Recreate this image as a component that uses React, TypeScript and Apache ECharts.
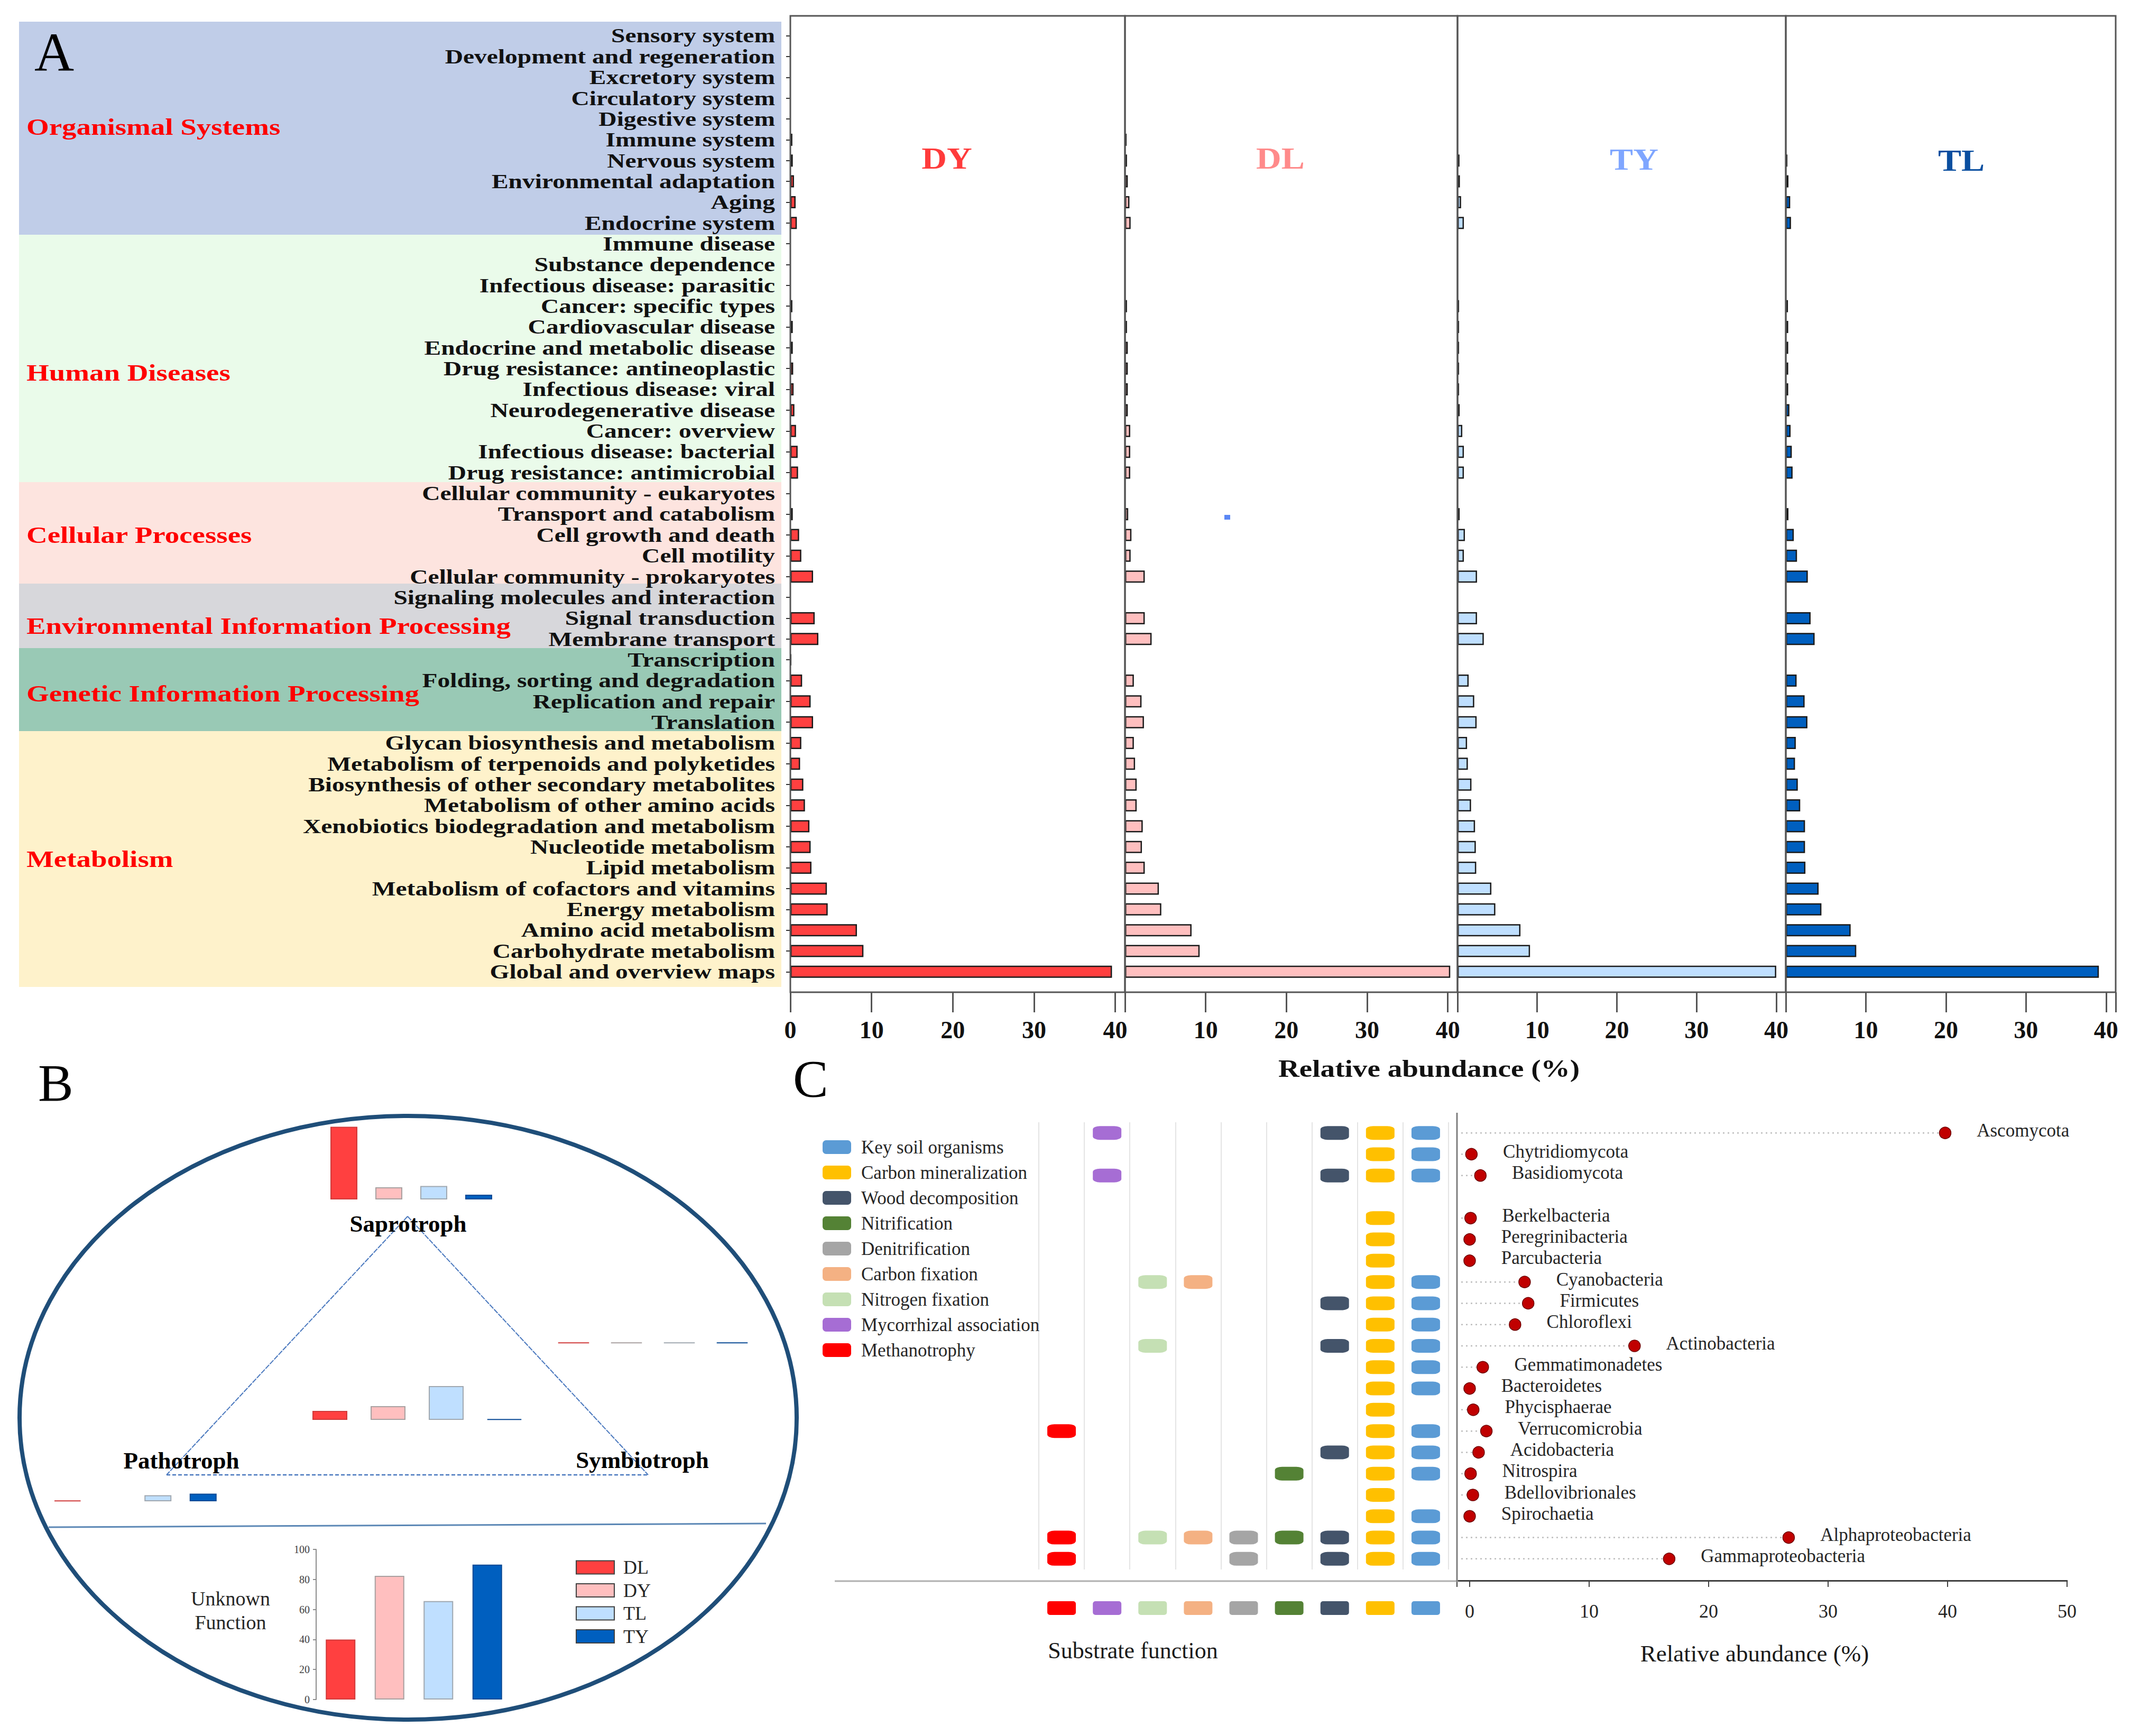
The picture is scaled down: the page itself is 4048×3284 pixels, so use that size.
import React, { useEffect, useRef } from 'react';
import * as echarts from 'echarts';

const FONT = "'Liberation Serif', 'Times New Roman', serif";

// ---------------- Panel A data ----------------
const pathways = [
  'Sensory system', 'Development and regeneration', 'Excretory system', 'Circulatory system', 'Digestive system',
  'Immune system', 'Nervous system', 'Environmental adaptation', 'Aging', 'Endocrine system',
  'Immune disease', 'Substance dependence', 'Infectious disease: parasitic', 'Cancer: specific types',
  'Cardiovascular disease', 'Endocrine and metabolic disease', 'Drug resistance: antineoplastic',
  'Infectious disease: viral', 'Neurodegenerative disease', 'Cancer: overview', 'Infectious disease: bacterial',
  'Drug resistance: antimicrobial',
  'Cellular community - eukaryotes', 'Transport and catabolism', 'Cell growth and death', 'Cell motility',
  'Cellular community - prokaryotes',
  'Signaling molecules and interaction', 'Signal transduction', 'Membrane transport',
  'Transcription', 'Folding, sorting and degradation', 'Replication and repair', 'Translation',
  'Glycan biosynthesis and metabolism', 'Metabolism of terpenoids and polyketides',
  'Biosynthesis of other secondary metabolites', 'Metabolism of other amino acids',
  'Xenobiotics biodegradation and metabolism', 'Nucleotide metabolism', 'Lipid metabolism',
  'Metabolism of cofactors and vitamins', 'Energy metabolism', 'Amino acid metabolism',
  'Carbohydrate metabolism', 'Global and overview maps',
];
const dyValues = [
  0, 0, 0, 0, 0, 0.25, 0.3, 0.45, 0.65, 0.8,
  0, 0, 0, 0.25, 0.3, 0.3, 0.35, 0.4, 0.5, 0.7, 0.9, 0.95,
  0, 0.3, 1.08, 1.35, 2.8,
  0, 3.0, 3.45,
  0.1, 1.45, 2.5, 2.8,
  1.35, 1.2, 1.6, 1.8, 2.35, 2.5, 2.6, 4.5, 4.6, 8.2, 9.0, 39.6,
];
const dlValues = [
  0, 0, 0, 0, 0, 0.2, 0.25, 0.35, 0.55, 0.7,
  0, 0, 0, 0.25, 0.25, 0.35, 0.35, 0.35, 0.35, 0.65, 0.65, 0.65,
  0, 0.4, 0.8, 0.7, 2.45,
  0, 2.45, 3.3,
  0, 1.1, 2.05, 2.35,
  1.1, 1.25, 1.45, 1.45, 2.2, 2.1, 2.45, 4.2, 4.5, 8.25, 9.25, 40.3,
];
const tyValues = [
  0, 0, 0, 0, 0, 0, 0.25, 0.3, 0.45, 0.8,
  0, 0, 0, 0.2, 0.2, 0.2, 0.2, 0.2, 0.27, 0.6, 0.8, 0.8,
  0, 0.27, 0.93, 0.8, 2.45,
  0, 2.45, 3.3,
  0, 1.4, 2.1, 2.4,
  1.2, 1.3, 1.75, 1.7, 2.2, 2.3, 2.35, 4.25, 4.75, 7.9, 9.1, 40.0,
];
const tlValues = [
  0, 0, 0, 0, 0, 0, 0.2, 0.33, 0.55, 0.65,
  0, 0, 0, 0.27, 0.3, 0.3, 0.3, 0.3, 0.45, 0.6, 0.75, 0.85,
  0, 0.33, 1.0, 1.4, 2.75,
  0, 3.1, 3.6,
  0, 1.35, 2.35, 2.7,
  1.25, 1.15, 1.5, 1.8, 2.4, 2.4, 2.45, 4.1, 4.45, 8.1, 8.8, 39.1,
];
const panelNames = ['DY', 'DL', 'TY', 'TL'];
const groupNames = [
  'Organismal Systems', 'Human Diseases', 'Cellular Processes',
  'Environmental Information Processing', 'Genetic Information Processing', 'Metabolism',
];
const axisTitleA = 'Relative abundance (%)';

// ---------------- Panel B data ----------------
const sampleNamesB = ['DL', 'DY', 'TL', 'TY'];
const saprotrophValues = [27.5, 4.6, 5.1, 1.8];
const centreValues = [3.4, 5.2, 12.8, 0.3];
const symbiotrophValues = [0.3, 0.3, 0.3, 0.3];
const pathotrophValues = [0.3, 0, 2.3, 2.9];
const unknownFunctionValues = [40, 82.4, 65.6, 89.9];
const guildNames = ['Saprotroph', 'Pathotroph', 'Symbiotroph'];

// ---------------- Panel C data ----------------
const functionNames = [
  'Methanotrophy', 'Mycorrhizal association', 'Nitrogen fixation', 'Carbon fixation', 'Denitrification',
  'Nitrification', 'Wood decomposition', 'Carbon mineralization', 'Key soil organisms',
];
const phyla = [
  'Ascomycota', 'Chytridiomycota', 'Basidiomycota', '', 'Berkelbacteria', 'Peregrinibacteria', 'Parcubacteria',
  'Cyanobacteria', 'Firmicutes', 'Chloroflexi', 'Actinobacteria', 'Gemmatimonadetes', 'Bacteroidetes',
  'Phycisphaerae', 'Verrucomicrobia', 'Acidobacteria', 'Nitrospira', 'Bdellovibrionales', 'Spirochaetia',
  'Alphaproteobacteria', 'Gammaproteobacteria',
];
const phylumAbundance = [
  39.8, 0.15, 0.9, null, 0.08, 0, 0,
  4.6, 4.9, 3.8, 13.8, 1.1, 0,
  0.3, 1.4, 0.75, 0.08, 0.27, 0,
  26.7, 16.7,
];
const methanotrophyTaxa = ['Verrucomicrobia', 'Alphaproteobacteria', 'Gammaproteobacteria'];
const mycorrhizalTaxa = ['Ascomycota', 'Basidiomycota'];
const nitrogenFixationTaxa = ['Cyanobacteria', 'Actinobacteria', 'Alphaproteobacteria'];
const carbonFixationTaxa = ['Cyanobacteria', 'Alphaproteobacteria'];
const denitrificationTaxa = ['Alphaproteobacteria', 'Gammaproteobacteria'];
const nitrificationTaxa = ['Nitrospira', 'Alphaproteobacteria'];
const woodDecompositionTaxa = ['Ascomycota', 'Basidiomycota', 'Firmicutes', 'Actinobacteria', 'Acidobacteria',
  'Alphaproteobacteria', 'Gammaproteobacteria'];
const carbonMineralizationTaxa = ['Ascomycota', 'Chytridiomycota', 'Basidiomycota', 'Berkelbacteria',
  'Peregrinibacteria', 'Parcubacteria', 'Cyanobacteria', 'Firmicutes', 'Chloroflexi', 'Actinobacteria',
  'Gemmatimonadetes', 'Bacteroidetes', 'Phycisphaerae', 'Verrucomicrobia', 'Acidobacteria', 'Nitrospira',
  'Bdellovibrionales', 'Spirochaetia', 'Alphaproteobacteria', 'Gammaproteobacteria'];
const keySoilTaxa = ['Ascomycota', 'Chytridiomycota', 'Basidiomycota', 'Cyanobacteria', 'Firmicutes',
  'Chloroflexi', 'Actinobacteria', 'Gemmatimonadetes', 'Bacteroidetes', 'Verrucomicrobia', 'Acidobacteria',
  'Nitrospira', 'Spirochaetia', 'Alphaproteobacteria', 'Gammaproteobacteria'];
const functionTaxa = [methanotrophyTaxa, mycorrhizalTaxa, nitrogenFixationTaxa, carbonFixationTaxa,
  denitrificationTaxa, nitrificationTaxa, woodDecompositionTaxa, carbonMineralizationTaxa, keySoilTaxa];

// ---------------- styles ----------------
const aColors = ['#FF4040', '#FFBFBF', '#BFDFFF', '#005FBF'];
const aTitleColors = ['#FF3B3B', '#FF8A8A', '#7FA6FF', '#0A4FA0'];
const bColors = ['#FF4040', '#FFBFBF', '#BFDFFF', '#005FBF'];
const bBorders = ['#D03A3A', '#A8A0A0', '#A0A8B0', '#0A4A95'];
const functionColors = ['#FF0000', '#A66DD4', '#C5E0B4', '#F4B183', '#A5A5A5', '#548235', '#44546A', '#FFC000', '#5B9BD5'];
const bandColors = ['#C0CDE8', '#EAFBEA', '#FDE4DF', '#D7D7DB', '#99C9B5', '#FEF2CB'];

function txt(text: string, x: number, y: number, size: number, o: any = {}) {
  const align = o.align || 'left';
  return {
    type: 'text', x, y, z: 30, silent: true, scaleX: o.scaleX || 1,
    style: {
      text, font: `${o.bold ? 'bold ' : ''}${size}px ${FONT}`, fill: o.color || '#000',
      textAlign: align, align, textVerticalAlign: 'middle', verticalAlign: 'middle',
    },
  };
}
function line(x1: number, y1: number, x2: number, y2: number, stroke: string, lineWidth: number, dash?: number[]) {
  return { type: 'line', z: 5, silent: true, shape: { x1, y1, x2, y2 }, style: { stroke, lineWidth, lineDash: dash || null } };
}

function buildOption() {
  const grid: any[] = [];
  const xAxis: any[] = [];
  const yAxis: any[] = [];
  const series: any[] = [];
  const graphic: any[] = [];

  // ---------- Panel A ----------
  const aTop = 48, aHeight = 1810;
  const rowH = aHeight / pathways.length;
  const aPanels = [{ left: 1495, width: 633 }, { left: 2128, width: 629 }, { left: 2757, width: 621 }, { left: 3378, width: 624 }];
  const aData = [dyValues, dlValues, tyValues, tlValues];
  aPanels.forEach((p, k) => {
    grid.push({ left: p.left, top: aTop, width: p.width, height: aHeight, outerBoundsMode: 'none' });
    xAxis.push({
      gridIndex: k, type: 'value', min: 0, max: 41.2, interval: 10, offset: 19,
      axisLine: { show: false },
      axisTick: { show: true, length: 38, lineStyle: { color: '#555', width: 3 } },
      splitLine: { show: false },
      axisLabel: {
        margin: 48, fontFamily: FONT, fontWeight: 'bold', fontSize: 46, color: '#111',
        formatter: (v: number) => {
          const r = Math.round(v);
          if (Math.abs(v - r) > 1e-6 || r % 10 !== 0) return '';
          if (k > 0 && r === 0) return '';
          return String(r);
        },
      },
    });
    yAxis.push({
      gridIndex: k, type: 'category', data: pathways, inverse: true,
      axisLine: { show: false },
      axisTick: k === 0 ? { show: true, alignWithLabel: true, length: 8, lineStyle: { color: '#333', width: 2 } } : { show: false },
      axisLabel: { show: false },
      splitLine: { show: false },
    });
    series.push({
      name: 'A-' + panelNames[k], type: 'bar', xAxisIndex: k, yAxisIndex: k,
      data: aData[k].map((v) => (v > 0 ? v : '-')),
      barWidth: 23,
      itemStyle: { color: aColors[k], borderColor: '#1a1a1a', borderWidth: 2.5 },
    });
    graphic.push({
      type: 'rect', z: 8, silent: true,
      shape: { x: p.left, y: 30, width: p.width, height: 1847 },
      style: { fill: 'none', stroke: '#555', lineWidth: 3 },
    });
  });
  // category labels (stretched serif, as in the reference)
  pathways.forEach((name, i) => {
    graphic.push(txt(name, 1466, aTop + rowH * (i + 0.5), 38, { bold: true, align: 'right', scaleX: 1.25, color: '#111' }));
  });
  // background bands + group labels
  const bandEdges = [41, 444, 912, 1104, 1226, 1383, 1867];
  const groupLabelY = [240, 705, 1012, 1184, 1312, 1625];
  bandColors.forEach((c, i) => {
    graphic.push({
      type: 'rect', z: -10, silent: true,
      shape: { x: 36, y: bandEdges[i], width: 1442, height: bandEdges[i + 1] - bandEdges[i] },
      style: { fill: c },
    });
    graphic.push(txt(groupNames[i], 50, groupLabelY[i], 45, { bold: true, color: '#FF0000', scaleX: 1.22 }));
  });
  const titlePos = [[1791, 300], [2422, 300], [3091, 302], [3710, 304]];
  panelNames.forEach((n, i) => {
    graphic.push(txt(n, titlePos[i][0], titlePos[i][1], 56, { bold: true, color: aTitleColors[i], align: 'center', scaleX: 1.18 }));
  });
  graphic.push(txt(axisTitleA, 2703, 2022, 46, { bold: true, align: 'center', scaleX: 1.2, color: '#111' }));
  graphic.push({ type: 'rect', z: 9, silent: true, shape: { x: 2316, y: 974, width: 11, height: 9 }, style: { fill: '#5B87F5' } });
  graphic.push(txt('A', 65, 98, 104));

  // ---------- Panel B ----------
  const bGroups = [
    { values: saprotrophValues, left: 608, width: 340, base: 2269, barWidth: 51, name: guildNames[0] },
    { values: centreValues, left: 569, width: 440, base: 2686, barWidth: 66, name: 'Centre' },
    { values: symbiotrophValues, left: 1035, width: 400, base: 2541, barWidth: 60, name: guildNames[2] },
    { values: pathotrophValues, left: 85, width: 342, base: 2840, barWidth: 51, name: guildNames[1] },
  ];
  bGroups.forEach((g, j) => {
    const gi = 4 + j;
    grid.push({ left: g.left, top: g.base - 150, width: g.width, height: 150, outerBoundsMode: 'none' });
    xAxis.push({ gridIndex: gi, type: 'category', data: sampleNamesB, show: false });
    yAxis.push({ gridIndex: gi, type: 'value', min: 0, max: 30, show: false, splitLine: { show: false } });
    series.push({
      name: 'B-' + g.name, type: 'bar', xAxisIndex: gi, yAxisIndex: gi, barWidth: g.barWidth,
      data: g.values.map((v, i) => (v > 0 ? { value: v, itemStyle: { color: bColors[i], borderColor: bBorders[i], borderWidth: 2 } } : '-')),
    });
  });
  // unknown function chart
  grid.push({ left: 598, top: 2931, width: 370, height: 284, outerBoundsMode: 'none' });
  xAxis.push({ gridIndex: 8, type: 'category', data: sampleNamesB, axisLine: { show: false }, axisTick: { show: false }, axisLabel: { show: false } });
  yAxis.push({
    gridIndex: 8, type: 'value', min: 0, max: 100, interval: 20,
    axisLine: { show: true, lineStyle: { color: '#8c8c8c', width: 2 } },
    axisTick: { show: true, length: 6, lineStyle: { color: '#8c8c8c', width: 2 } },
    axisLabel: { fontFamily: FONT, fontSize: 20, color: '#404040', margin: 12 },
    splitLine: { show: false },
  });
  sampleNamesB.forEach((n, i) => {
    series.push({
      name: n, type: 'bar', xAxisIndex: 8, yAxisIndex: 8, stack: 'unknown', barWidth: 56,
      data: sampleNamesB.map((_, j) => (j === i ? unknownFunctionValues[i] : '-')),
      itemStyle: { color: bColors[i], borderColor: bBorders[i], borderWidth: 2 },
    });
  });
  graphic.push({
    type: 'ellipse', z: 6, silent: true, shape: { cx: 772, cy: 2682, rx: 735, ry: 571 },
    style: { fill: 'none', stroke: '#1F4E79', lineWidth: 8 },
  });
  graphic.push(line(92, 2889, 1449, 2882, '#5B87B5', 3));
  graphic.push(line(771, 2301, 315, 2790, '#4A78BE', 2, [10, 2]));
  graphic.push(line(771, 2301, 1226, 2790, '#4A78BE', 2, [10, 2]));
  graphic.push(line(315, 2790, 1226, 2790, '#4A78BE', 2.5, [7, 4]));
  graphic.push(txt(guildNames[0], 772, 2315, 45, { bold: true, align: 'center' }));
  graphic.push(txt(guildNames[1], 343, 2763, 45, { bold: true, align: 'center' }));
  graphic.push(txt(guildNames[2], 1215, 2762, 45, { bold: true, align: 'center' }));
  graphic.push(txt('Unknown', 436, 3024, 38, { align: 'center', color: '#262626' }));
  graphic.push(txt('Function', 436, 3069, 38, { align: 'center', color: '#262626' }));
  graphic.push(txt('B', 72, 2048, 100));

  // ---------- Panel C ----------
  const cTop = 2123, cHeight = 846;
  const rich: any = {};
  functionNames.forEach((_, i) => {
    rich['c' + i] = { width: 54, height: 26, backgroundColor: functionColors[i], borderRadius: 5 };
  });
  grid.push({ left: 1965, top: cTop, width: 775, height: cHeight, outerBoundsMode: 'none' });
  xAxis.push({
    gridIndex: 9, type: 'category', data: functionNames,
    axisLine: { show: false }, axisTick: { show: false },
    splitLine: { show: true, interval: 0, lineStyle: { color: '#E4E4E4', width: 2 } },
    axisLabel: { interval: 0, margin: 60, formatter: (_v: string, idx: number) => `{c${idx}| }`, rich },
  });
  yAxis.push({ gridIndex: 9, type: 'category', data: phyla, inverse: true, show: false });
  functionNames.forEach((f, i) => {
    series.push({
      name: f, type: 'scatter', xAxisIndex: 9, yAxisIndex: 9,
      symbol: 'roundRect', symbolSize: [54, 26],
      itemStyle: { color: functionColors[i], opacity: 1 },
      data: functionTaxa[i].map((t) => [f, t]),
    });
  });

  grid.push({ left: 2756, top: cTop, width: 1154, height: cHeight, outerBoundsMode: 'none' });
  xAxis.push({
    gridIndex: 10, type: 'value', min: -1.06, max: 50, splitNumber: 5, offset: 21,
    axisLine: { show: true, lineStyle: { color: '#404040', width: 3 } },
    axisTick: { show: true, length: 12, lineStyle: { color: '#404040', width: 2 } },
    splitLine: { show: false },
    axisLabel: {
      margin: 40, fontFamily: FONT, fontSize: 36, color: '#262626',
      formatter: (v: number) => {
        const r = Math.round(v / 10) * 10;
        return Math.abs(v - r) < 1e-6 ? String(r) : '';
      },
    },
  });
  yAxis.push({ gridIndex: 10, type: 'category', data: phyla, inverse: true, show: false });
  const dotData: any[] = [];
  phyla.forEach((p, i) => {
    if (p) dotData.push([phylumAbundance[i], p]);
  });
  series.push({
    name: 'leader', type: 'custom', xAxisIndex: 10, yAxisIndex: 10, silent: true, z: 1,
    data: dotData,
    renderItem: (params: any, api: any) => {
      const pt = api.coord([api.value(0), api.value(1)]);
      const x0 = params.coordSys.x + 8;
      const x1 = pt[0] - 12;
      if (x1 - x0 < 4) return { type: 'group', children: [] };
      return {
        type: 'line', shape: { x1: x0, y1: pt[1], x2: x1, y2: pt[1] },
        style: { stroke: '#BDBDBD', lineWidth: 2.5, lineDash: [3, 6] },
      };
    },
  });
  series.push({
    name: 'phylum', type: 'scatter', xAxisIndex: 10, yAxisIndex: 10, z: 3,
    symbolSize: 22, data: dotData,
    itemStyle: { color: '#C00000', borderColor: '#6E0000', borderWidth: 1.5, opacity: 1 },
    label: {
      show: true, position: 'right', distance: 48, offset: [0, -5],
      fontFamily: FONT, fontSize: 35, color: '#262626',
      formatter: (p: any) => p.value[1],
    },
  });
  graphic.push(line(1579, 2991, 2758, 2991, '#AFAFAF', 3));
  graphic.push(line(2756, 2105, 2756, 2992, '#7F7F7F', 3));
  graphic.push(txt('Substrate function', 2143, 3122, 44, { align: 'center', color: '#1a1a1a' }));
  graphic.push(txt('Relative abundance (%)', 3319, 3128, 45, { align: 'center', color: '#1a1a1a' }));
  graphic.push(txt('C', 1500, 2040, 100));

  const legend = [
    {
      data: [...functionNames].reverse(), orient: 'vertical', left: 1551, top: 2147,
      itemWidth: 54, itemHeight: 26, itemGap: 12, icon: 'roundRect', selectedMode: false,
      textStyle: { fontFamily: FONT, fontSize: 35, color: '#262626', lineHeight: 36, padding: [0, 0, 0, 14] },
    },
    {
      data: sampleNamesB, orient: 'vertical', left: 1084, top: 2942,
      itemWidth: 72, itemHeight: 25, itemGap: 7.5, icon: 'rect', selectedMode: false,
      itemStyle: { borderColor: '#404040', borderWidth: 2 },
      textStyle: { fontFamily: FONT, fontSize: 36, color: '#262626', lineHeight: 36, padding: [0, 0, 0, 12] },
    },
  ];

  return {
    animation: false,
    backgroundColor: '#ffffff',
    textStyle: { fontFamily: FONT },
    grid, xAxis, yAxis, series, legend,
    graphic: { elements: graphic },
  };
}

export default function App() {
  const ref = useRef<HTMLDivElement>(null);
  useEffect(() => {
    if (!ref.current) return;
    const chart = echarts.init(ref.current, undefined, { renderer: 'svg', width: 4048, height: 3284 });
    chart.setOption(buildOption() as any);
    return () => chart.dispose();
  }, []);
  return (
    <div
      ref={ref}
      style={{ position: 'fixed', left: 0, top: 0, width: 4048, height: 3284, background: '#fff' }}
    />
  );
}
